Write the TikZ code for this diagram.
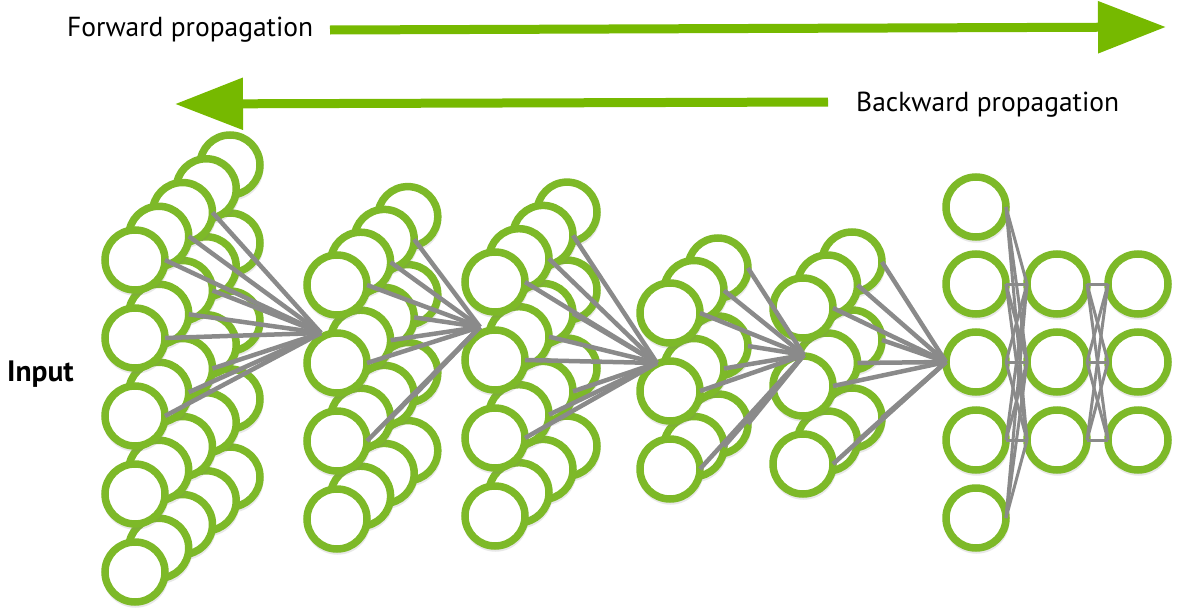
\documentclass[tikz,border=0pt]{standalone}
\usepackage{fontspec}
\setmainfont{PT Sans}
\usetikzlibrary{arrows.meta,shadows}
\definecolor{nvgreen}{HTML}{76B900}
\definecolor{ringgreen}{HTML}{7DB928}
\definecolor{linkgray}{HTML}{8A8A8A}
\tikzset{
  neuron/.style={circle, draw=ringgreen, line width=7.5pt, fill=white,
    minimum size=60pt, inner sep=0pt, outer sep=0pt,
    drop shadow={opacity=0.18, shadow xshift=0.5pt, shadow yshift=-2.5pt, shadow scale=1.1}},
  conn/.style={draw=linkgray, line width=4.5pt},
  dense/.style={draw=linkgray, line width=3pt},
  bigarrow/.style={draw=nvgreen, line width=9pt, -{Triangle[length=68pt,width=50pt]}},
  lbl/.style={font=\fontsize{27.5}{32}\selectfont, inner sep=0pt, anchor=west},
}
\newcommand\nnlayer[7]{% name, x0, y0, depth list, row list, dx, dy
  \foreach \d in {#4}{%
    \foreach \r in {#5}{%
      \node[neuron] (#1-\d-\r) at ({#2+#6*\d},{#3+#7*\d+78*\r}) {};
    }%
  }%
}
\begin{document}
\begin{tikzpicture}[x=1pt,y=-1pt]
\useasboundingbox (0,0) rectangle (1195,616);

% texts
\node[lbl] (fwd) at (67,30) {Forward propagation};
\node[lbl] (bwd) at (856,105) {Backward propagation};
\node[lbl, font=\fontsize{29.5}{34}\selectfont\bfseries] (inp) at (7,374) {Input};

% arrows
\coordinate (fs) at (330,30);
\coordinate (fe) at (1166,27);
\draw[bigarrow] (fs) -- (fe);
\coordinate (bs) at (828,102);
\coordinate (be) at (175,104);
\draw[bigarrow] (bs) -- (be);

% 3D layers (back to front)
\nnlayer{La}{135}{260}{4,3,2,1,0}{0,1,2,3,4}{23.75}{-23.75}
\nnlayer{Lb}{337}{285}{3,2,1,0}{0,1,2,3}{23.6}{-22.8}
\nnlayer{Lc}{495}{282}{3,2,1,0}{0,1,2,3}{24}{-23.3}
\nnlayer{Ld}{670}{313}{2,1,0}{0,1,2}{24}{-22.5}
\nnlayer{Le}{803}{308}{2,1,0}{0,1,2}{24.5}{-23}

% dense layers
\foreach \r [count=\i from 0] in {207,284,362,440,518}{\node[neuron] (A-\i) at (976,\r) {};}
\foreach \r [count=\i from 0] in {284,362,440}{\node[neuron] (B-\i) at (1057,\r) {};}
\foreach \r [count=\i from 0] in {284,362,440}{\node[neuron] (C-\i) at (1138,\r) {};}

% convergence points
\coordinate (Pb) at (321,333);
\coordinate (Pc) at (480,327);
\coordinate (Pd) at (657,363);
\coordinate (Pe) at (804,355);

\foreach \d in {0,1,2}{\foreach \r in {0,1,2}{%
  \draw[conn] (La-\d-\r.east) -- (Pb);
  \draw[conn] (Lb-\d-\r.east) -- (Pc);
  \draw[conn] (Lc-\d-\r.east) -- (Pd);
  \draw[conn] (Ld-\d-\r.east) -- (Pe);
  \draw[conn] (Le-\d-\r.east) -- (A-2.west);
}}

\foreach \i in {0,...,4}{\foreach \j in {0,1,2}{\draw[dense] (A-\i.east) -- (B-\j.west);}}
\foreach \i in {0,1,2}{\foreach \j in {0,1,2}{\draw[dense] (B-\i.east) -- (C-\j.west);}}
\end{tikzpicture}
\end{document}
